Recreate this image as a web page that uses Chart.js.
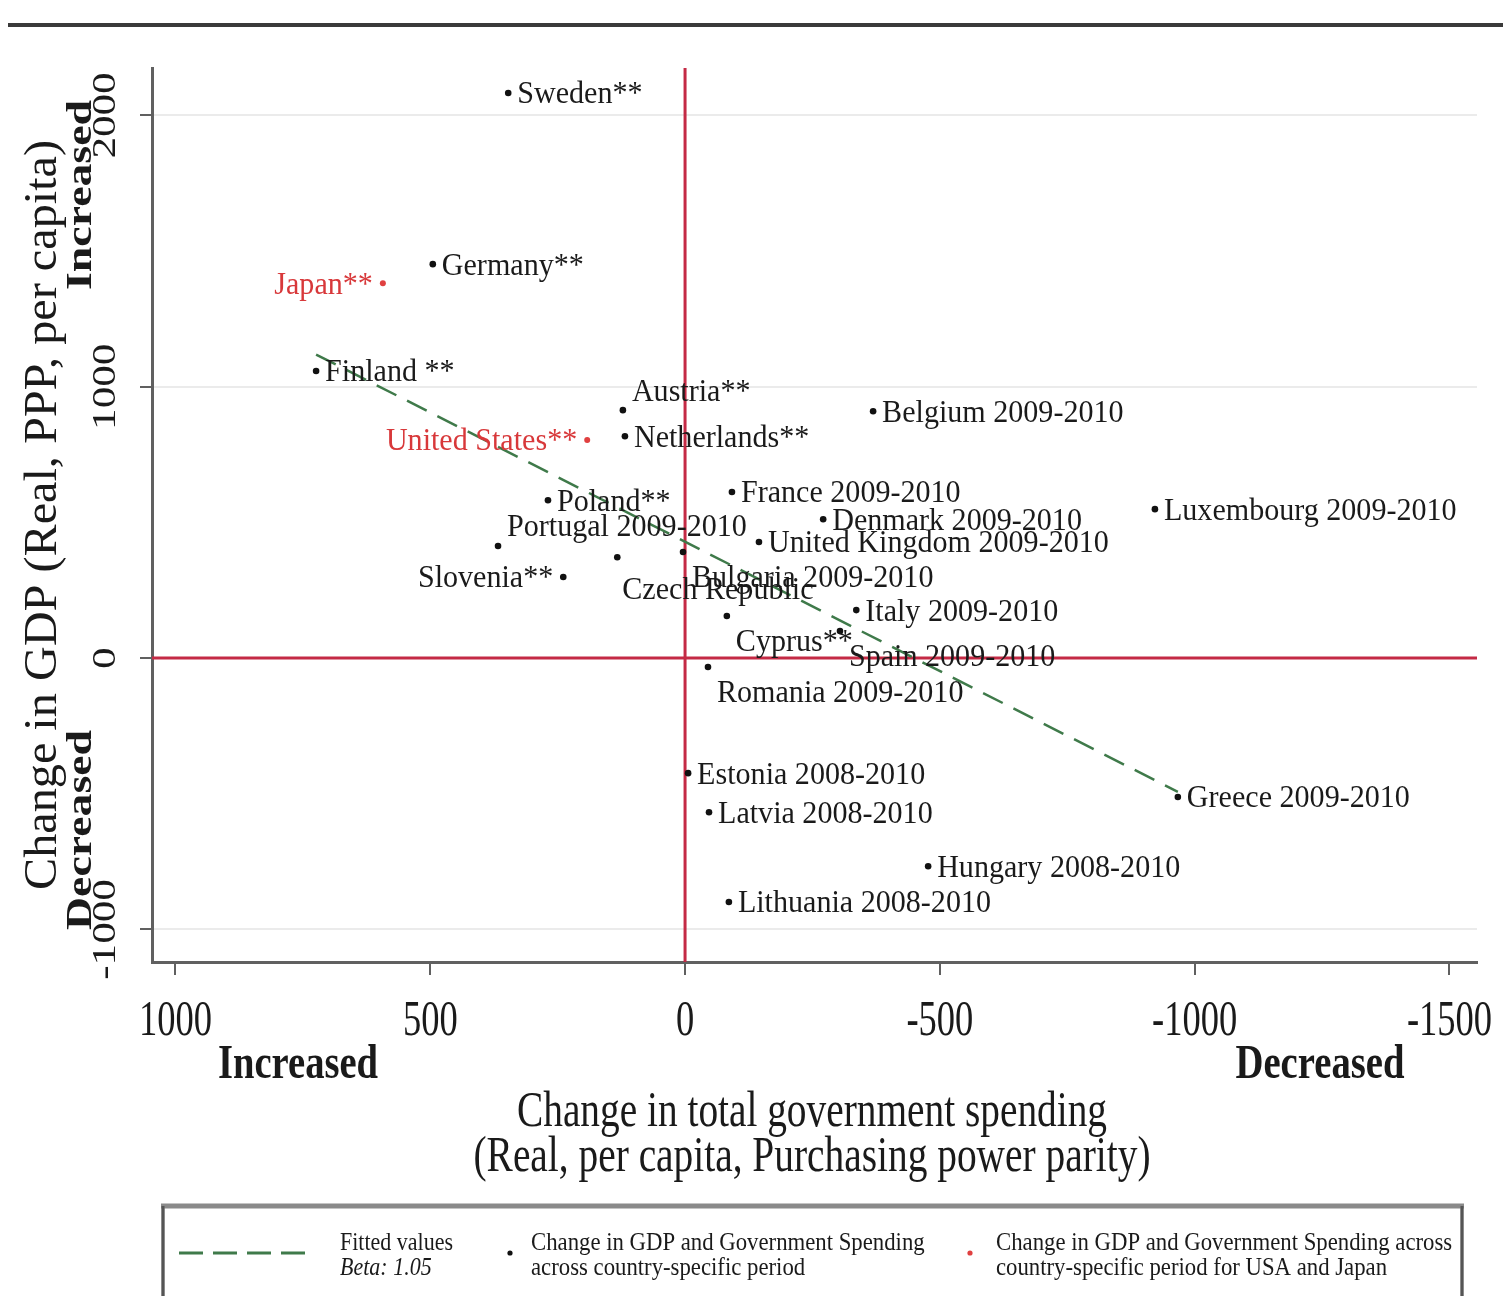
<!DOCTYPE html>
<html><head><meta charset="utf-8">
<script src="https://cdn.jsdelivr.net/npm/chart.js@4.4.1/dist/chart.umd.min.js"></script>
<style>html,body{margin:0;padding:0;background:#fff}canvas{display:block}</style>
</head><body>
<canvas id="c" width="1503" height="1296"></canvas>
<script>
// ---- data ----
const countries = ["Sweden**","Germany**","Finland **","Austria**","Netherlands**","Belgium 2009-2010","Poland**","France 2009-2010","Denmark 2009-2010","Luxembourg 2009-2010","Portugal 2009-2010","United Kingdom 2009-2010","Slovenia**","Czech Republic","Bulgaria 2009-2010","Italy 2009-2010","Cyprus**","Spain 2009-2010","Romania 2009-2010","Estonia 2008-2010","Latvia 2008-2010","Greece 2009-2010","Hungary 2008-2010","Lithuania 2008-2010"];
const spendingChange = [347, 495, 724, 122, 118, -369, 269, -92, -271, -922, 367, -145, 239, 133, 4, -336, -82, -304, -45, -6, -47, -967, -477, -86];
const gdpChange = [2083, 1452, 1058, 914, 818, 910, 582, 612, 512, 549, 413, 428, 299, 372, 391, 177, 155, 100, -33, -424, -568, -512, -767, -899];
const highlightCountries = ["Japan**", "United States**"];
const highlightSpending = [593, 192];
const highlightGdp = [1382, 804];
const fitSpending = [724, -967];
const fitGdp = [1119, -493];
const xTickValues = [1000, 500, 0, -500, -1000, -1500];
const yTickValues = [-1000, 0, 1000, 2000];

// label clock positions (style)
const labelPos = [3,3,3,2,3,3,3,3,3,3,2,3,9,5,4,3,4,4,4,3,3,3,3,3];
const highlightLabelPos = [9, 9];

const FONT = '"Liberation Serif","Times New Roman",serif';
function txt(ctx, s, x, y, o) {
  ctx.save();
  ctx.translate(x, y);
  if (o.rot) ctx.rotate(o.rot);
  ctx.font = (o.style || '') + ' ' + (o.weight || '') + ' ' + o.size + 'px ' + FONT;
  let sx = o.sx || 1;
  if (o.fit) sx = o.fit / ctx.measureText(s).width;
  ctx.scale(sx, o.sy || 1);
  ctx.textAlign = o.align || 'left';
  ctx.textBaseline = o.base || 'alphabetic';
  ctx.fillStyle = o.color || '#1a1a1a';
  ctx.fillText(s, 0, 0);
  ctx.restore();
}
const offsets = {3:[9,2,'left'], 9:[-10,2,'right'], 2:[9,-18,'left'], 4:[9,27,'left'], 5:[5,33,'left']};

const refLines = {
  id: 'refLines',
  beforeDatasetsDraw(chart) {
    const {ctx, chartArea: a, scales: {x, y}} = chart;
    ctx.save();
    ctx.strokeStyle = '#c42a45';
    ctx.lineWidth = 3;
    const px = x.getPixelForValue(0), py = y.getPixelForValue(0);
    ctx.beginPath(); ctx.moveTo(px, a.top); ctx.lineTo(px, a.bottom); ctx.stroke();
    ctx.beginPath(); ctx.moveTo(a.left, py); ctx.lineTo(a.right, py); ctx.stroke();
    ctx.restore();
  }
};

const decorations = {
  id: 'decorations',
  afterDraw(chart) {
    const ctx = chart.ctx;
    const {x, y} = chart.scales;
    // point labels
    const draws = [[1, countries, labelPos, '#1a1a1a'], [2, highlightCountries, highlightLabelPos, '#d8383a']];
    draws.forEach(([di, names, pos, col]) => {
      const meta = chart.getDatasetMeta(di);
      meta.data.forEach((el, i) => {
        const o = offsets[pos[i]];
        txt(ctx, names[i], el.x + o[0], el.y + o[1], {size: 32, sx: 0.94, align: o[2], base: 'middle', color: col});
      });
    });
    // tick labels
    y.ticks.forEach(t => {
      txt(ctx, String(t.value), 115, y.getPixelForValue(t.value), {rot: -Math.PI / 2, size: 44, sx: 0.98, sy: 0.76, align: 'center'});
    });
    x.ticks.forEach(t => {
      txt(ctx, String(t.value), x.getPixelForValue(t.value), 1035, {size: 50, sx: 0.73, align: 'center'});
    });
    // axis titles
    txt(ctx, 'Change in GDP (Real, PPP, per capita)', 56, 515, {rot: -Math.PI / 2, size: 50, fit: 750, sy: 0.92, align: 'center'});
    txt(ctx, 'Increased', 91, 195, {rot: -Math.PI / 2, size: 44, weight: 'bold', fit: 190, sy: 0.8, align: 'center'});
    txt(ctx, 'Decreased', 91, 830, {rot: -Math.PI / 2, size: 44, weight: 'bold', fit: 200, sy: 0.8, align: 'center'});
    txt(ctx, 'Increased', 298, 1078, {size: 48, weight: 'bold', fit: 160, align: 'center'});
    txt(ctx, 'Decreased', 1320, 1078, {size: 48, weight: 'bold', fit: 169, align: 'center'});
    txt(ctx, 'Change in total government spending', 812, 1126, {size: 50, fit: 590, align: 'center'});
    txt(ctx, '(Real, per capita, Purchasing power parity)', 812, 1171, {size: 50, fit: 677, align: 'center'});
    // top rule
    ctx.save();
    ctx.strokeStyle = '#3a3a3a'; ctx.lineWidth = 4;
    ctx.beginPath(); ctx.moveTo(8, 25); ctx.lineTo(1503, 25); ctx.stroke();
    // legend box
    ctx.strokeStyle = '#8a8a8a'; ctx.lineWidth = 3;
    ctx.strokeRect(163, 1206, 1299, 120);
    ctx.lineWidth = 5; ctx.beginPath(); ctx.moveTo(161, 1206); ctx.lineTo(1464, 1206); ctx.stroke();
    ctx.strokeStyle = '#555'; ctx.lineWidth = 3;
    ctx.beginPath(); ctx.moveTo(163, 1206); ctx.lineTo(163, 1296); ctx.stroke();
    ctx.beginPath(); ctx.moveTo(1462, 1206); ctx.lineTo(1462, 1296); ctx.stroke();
    // legend items
    ctx.strokeStyle = '#3f7a4a'; ctx.lineWidth = 3; ctx.setLineDash([24, 10]);
    ctx.beginPath(); ctx.moveTo(179, 1253); ctx.lineTo(305, 1253); ctx.stroke();
    ctx.setLineDash([]);
    ctx.fillStyle = '#111'; ctx.beginPath(); ctx.arc(510, 1253, 2.6, 0, Math.PI * 2); ctx.fill();
    ctx.fillStyle = '#e04040'; ctx.beginPath(); ctx.arc(970, 1253, 2.6, 0, Math.PI * 2); ctx.fill();
    ctx.beginPath(); ctx.rect(165, 1208, 1295, 90); ctx.clip();
    txt(ctx, 'Fitted values', 340, 1250, {size: 25, sx: 0.88});
    txt(ctx, 'Beta: 1.05', 340, 1275, {size: 25, sx: 0.88, style: 'italic'});
    txt(ctx, 'Change in GDP and Government Spending', 531, 1250, {size: 25, sx: 0.91});
    txt(ctx, 'across country-specific period', 531, 1275, {size: 25, sx: 0.91});
    txt(ctx, 'Change in GDP and Government Spending across', 996, 1250, {size: 25, sx: 0.91});
    txt(ctx, 'country-specific period for USA and Japan', 996, 1275, {size: 25, sx: 0.91});
    ctx.restore();
  }
};

new Chart(document.getElementById('c'), {
  type: 'scatter',
  data: {
    datasets: [
      {
        type: 'line', label: 'Fitted values',
        data: fitSpending.map((v, i) => ({x: v, y: fitGdp[i]})),
        borderColor: '#3f7a4a', borderWidth: 2.5, borderDash: [22, 12],
        pointRadius: 0, fill: false, order: 3
      },
      {
        label: 'Change in GDP and Government Spending across country-specific period',
        data: spendingChange.map((v, i) => ({x: v, y: gdpChange[i]})),
        backgroundColor: '#111', borderWidth: 0, pointRadius: 3.3, order: 1
      },
      {
        label: 'Change in GDP and Government Spending across country-specific period for USA and Japan',
        data: highlightSpending.map((v, i) => ({x: v, y: highlightGdp[i]})),
        backgroundColor: '#e04040', borderWidth: 0, pointRadius: 3, order: 2
      }
    ]
  },
  options: {
    responsive: false,
    animation: false,
    devicePixelRatio: 1,
    layout: {padding: {top: 68, right: 26, bottom: 294, left: 0}},
    plugins: {legend: {display: false}, tooltip: {enabled: false}},
    scales: {
      x: {
        type: 'linear', reverse: true, min: -1554, max: 1046,
        afterBuildTicks: s => { s.ticks = xTickValues.map(v => ({value: v})); },
        afterFit: s => { s.height = 40; },
        ticks: {display: false},
        grid: {drawOnChartArea: false, drawTicks: true, tickLength: 13, color: '#606060', lineWidth: 2},
        border: {display: true, color: '#606060', width: 3}
      },
      y: {
        type: 'linear', min: -1120, max: 2175,
        afterBuildTicks: s => { s.ticks = yTickValues.map(v => ({value: v})); },
        afterFit: s => { s.width = 152; },
        ticks: {display: false},
        grid: {drawOnChartArea: true, drawTicks: true, tickLength: 12, color: '#ebebeb', tickColor: '#606060', lineWidth: 2},
        border: {display: true, color: '#606060', width: 3}
      }
    }
  },
  plugins: [refLines, decorations]
});
</script>
</body></html>
